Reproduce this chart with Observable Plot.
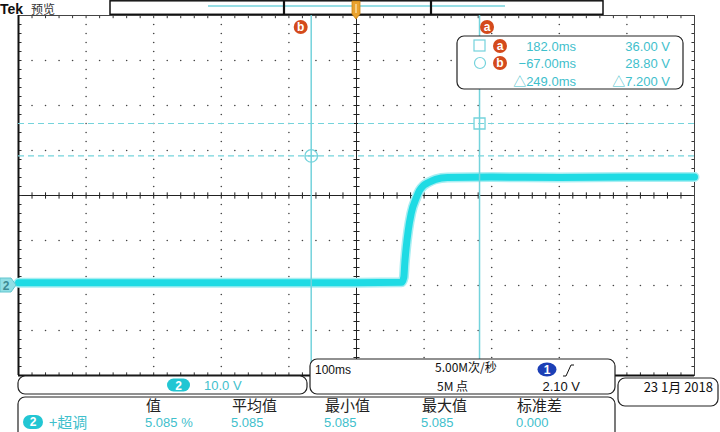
<!DOCTYPE html>
<html><head><meta charset="utf-8">
<script src="https://cdn.jsdelivr.net/npm/d3@7"></script>
<script src="https://cdn.jsdelivr.net/npm/@observablehq/plot@0.6"></script>
<style>body{margin:0;background:#fff;} svg{display:block;}</style>
</head><body><div id="chart"></div>
<script>
const traceTime = [-500, -400, -300, -200, -100, 0, 66.6, 70, 71.4, 73.5, 76.5, 80.9, 88.8, 93.2, 99.1, 106.5, 117, 134.6, 200, 300, 400, 500];
const traceVolt = [0.6, 0.6, 0.6, 0.6, 0.6, 0.6, 0.7, 1.8, 4.9, 8.4, 12.2, 16.0, 19.6, 21.1, 22.2, 22.9, 23.6, 24.0, 24.1, 24.0, 24.1, 24.1];
const cursorNames = ["a", "b"];
const cursorTimes = [182.0, -67.0];     // ms
const cursorVolts = [36.0, 28.8];       // V
const cursorTimeLabels = ["182.0ms", "−67.00ms", "△249.0ms"];
const cursorVoltLabels = ["36.00 V", "28.80 V", "△7.200 V"];
const measHeaders = ["值", "平均值", "最小值", "最大值", "标准差"];
const measValues = ["5.085 %", "5.085", "5.085", "5.085", "0.000"];
const measName = "+超调";
const channelScale = "10.0 V";
const timebase = "100ms";
const sampleRate = "5.00M次/秒";
const recordLen = "5M 点";
const trigLevel = "2.10 V";
const dateText = "23 1月 2018";

const trace = traceTime.map((t, i) => ({t, v: traceVolt[i]}));
const cursors = cursorNames.map((n, i) => ({n, t: cursorTimes[i], v: cursorVolts[i]}));

// graticule helpers (100 ms/div, 10 V/div, 5 minor per div)
const gridDots = [];
for (let x = -400; x <= 400; x += 100) if (x !== 0) for (let y = -18; y <= 58; y += 2) gridDots.push({x, y});
for (const y of [-10, 0, 10, 30, 40, 50]) for (let x = -480; x <= 480; x += 20) if (x % 100 !== 0) gridDots.push({x, y});
const minorX = d3.range(-480, 500, 20);
const minorY = d3.range(-18, 60, 2);

const CY = "#1fdbe4", CUR = "#74d3dc", TXT = "#3fc0cc";
const LAT = "'Liberation Sans','Noto Sans CJK SC',sans-serif";
const CJK = "'Noto Sans CJK SC','Liberation Sans',sans-serif";

const plot = Plot.plot({
  width: 720, height: 432,
  marginLeft: 18, marginRight: 26, marginTop: 15, marginBottom: 57,
  x: {domain: [-500, 500], axis: null},
  y: {domain: [-20, 60], axis: null},
  style: {background: "white", fontFamily: LAT},
  marks: [
    Plot.dot(gridDots, {x: "x", y: "y", r: 0.8, fill: "#444", stroke: null}),
    // center cross
    Plot.ruleX([0], {stroke: "#222", strokeWidth: 1}),
    Plot.ruleY([20], {stroke: "#222", strokeWidth: 1}),
    Plot.link(minorX, {x1: d => d, x2: d => d, y1: 19.3, y2: 20.7, stroke: "#222"}),
    Plot.link(minorY, {y1: d => d, y2: d => d, x1: -4.5, x2: 4.5, stroke: "#222"}),
    // border ticks
    Plot.link(minorX, {x1: d => d, x2: d => d, y1: -20, y2: -19.3, stroke: "#333"}),
    Plot.link(minorX, {x1: d => d, x2: d => d, y1: 60, y2: 59.4, stroke: "#333"}),
    Plot.link(minorY, {y1: d => d, y2: d => d, x1: -500, x2: -495.5, stroke: "#333"}),
    Plot.link(minorY, {y1: d => d, y2: d => d, x1: 500, x2: 495.5, stroke: "#333"}),
    Plot.frame({stroke: "#444", strokeWidth: 1}),
    Plot.ruleX([-500], {stroke: "#111", strokeWidth: 2}),
    Plot.ruleY([-20], {stroke: "#111", strokeWidth: 2}),
    // horizontal cursors (dashed)
    Plot.ruleY(cursors, {y: "v", stroke: CUR, strokeWidth: 1.2, strokeDasharray: "6,4"}),
    // trace
    Plot.line(trace, {x: "t", y: "v", stroke: "#a8eef2", strokeWidth: 10, curve: "monotone-x"}),
    Plot.line(trace, {x: "t", y: "v", stroke: CY, strokeWidth: 7, curve: "monotone-x"}),
    // vertical cursors
    Plot.ruleX(cursors, {x: "t", stroke: CUR, strokeWidth: 1.5}),
    Plot.dot(cursors.slice(0, 1), {x: "t", y: "v", symbol: "square", r: 6.2, stroke: CUR, strokeWidth: 1.3, fill: "none"}),
    Plot.dot(cursors.slice(1), {x: "t", y: "v", symbol: "circle", r: 6.3, stroke: CUR, strokeWidth: 1.3, fill: "none"}),
    Plot.link(cursors.slice(1), {x1: d => d.t - 9, x2: d => d.t + 9, y1: "v", y2: "v", stroke: CUR, strokeWidth: 1.3})
  ]
});
document.getElementById("chart").appendChild(plot);

const svg = d3.select(plot);
const sx = plot.scale("x").apply, sy = plot.scale("y").apply;
const g = svg.append("g");

function txt(x, y, s, o = {}) {
  return g.append("text").attr("x", x).attr("y", y).text(s)
    .attr("font-family", o.ff || LAT).attr("font-size", o.fs || 13)
    .attr("fill", o.fill || "#111").attr("text-anchor", o.anchor || "start")
    .attr("font-weight", o.fw || "normal");
}
function box(x, y, w, h, rx = 7) {
  g.append("rect").attr("x", x).attr("y", y).attr("width", w).attr("height", h)
    .attr("rx", rx).attr("fill", "white").attr("stroke", "#222").attr("stroke-width", 1.2);
}
function badge(cx, cy, label, fill) {
  g.append("circle").attr("cx", cx).attr("cy", cy).attr("r", 7).attr("fill", fill);
  txt(cx, cy + 4, label, {fs: 12, fw: "bold", fill: "white", anchor: "middle"});
}

// Title
txt(0, 14, "Tek", {fs: 14, fw: "bold"});
txt(31, 14, "预览", {ff: CJK, fs: 12, fill: "#333"});

// top record bar
g.append("rect").attr("x", 110).attr("y", 0.8).attr("width", 493).attr("height", 13.5).attr("fill", "white").attr("stroke", "#111").attr("stroke-width", 1.5);
g.append("line").attr("x1", 208).attr("x2", 505).attr("y1", 6).attr("y2", 6).attr("stroke", CUR).attr("stroke-width", 1.5);
for (const x of [284, 431]) g.append("line").attr("x1", x).attr("x2", x).attr("y1", 0.8).attr("y2", 14.3).attr("stroke", "#111").attr("stroke-width", 2.2);
// trigger position marker
const tx = sx(0);
g.append("path").attr("d", `M${tx - 4},1 h8 v13 l-4,5 l-4,-5 z`).attr("fill", "#e9a22e").attr("stroke", "#c98414").attr("stroke-width", 0.8);
g.append("line").attr("x1", tx).attr("x2", tx).attr("y1", 4).attr("y2", 13).attr("stroke", "#fde8b8").attr("stroke-width", 1.2);

// cursor letter badges
badge(sx(cursorTimes[1]) - 10, 27, "b", "#d44a1c");
badge(sx(cursorTimes[0]) + 8, 27, "a", "#d44a1c");

// cursor readout box
box(457, 36, 226, 53);
const rows = [46, 63, 81];
g.append("rect").attr("x", 474).attr("y", 40).attr("width", 11).attr("height", 11).attr("fill", "none").attr("stroke", CUR).attr("stroke-width", 1.2);
g.append("circle").attr("cx", 480).attr("cy", 63).attr("r", 5.5).attr("fill", "none").attr("stroke", CUR).attr("stroke-width", 1.2);
badge(500, 46, "a", "#d44a1c");
badge(500, 63, "b", "#d44a1c");
cursorTimeLabels.forEach((s, i) => txt(576, rows[i] + 5, s, {fill: TXT, anchor: "end"}));
cursorVoltLabels.forEach((s, i) => txt(670, rows[i] + 5, s, {fill: TXT, anchor: "end"}));

// channel ground marker
const gy = sy(0);
g.append("path").attr("d", `M0,${gy - 7} h11 l5,7 l-5,7 h-11 z`).attr("fill", "#92dfe5").attr("stroke", "#62c6cf");
txt(6, gy + 4.5, "2", {fs: 12, fw: "bold", fill: "#3d8a93", anchor: "middle"});

// channel scale box
box(18, 376, 289, 18);
g.append("rect").attr("x", 167).attr("y", 378.5).attr("width", 23).attr("height", 13).attr("rx", 6.5).attr("fill", "#22c6d3");
txt(178.5, 389.5, "2", {fs: 12, fw: "bold", fill: "white", anchor: "middle"});
txt(204, 390, channelScale, {fill: TXT});

// measurement box
box(18, 397, 597, 45);
g.append("rect").attr("x", 23).attr("y", 415).attr("width", 20).attr("height", 14).attr("rx", 7).attr("fill", "#22c6d3");
txt(33, 426, "2", {fs: 12, fw: "bold", fill: "white", anchor: "middle"});
txt(49, 428, measName, {ff: CJK, fs: 15, fill: TXT});
const colX = [146, 232, 325, 422, 517];
measHeaders.forEach((s, i) => txt(colX[i], 411, s, {ff: CJK, fs: 15, fill: "#222"}));
measValues.forEach((s, i) => txt(colX[i] - 1, 427, s, {fs: 13, fill: TXT}));

// timebase box
box(310, 359, 305, 35);
txt(315, 374, timebase, {fs: 12});
txt(435, 372, sampleRate, {ff: CJK, fs: 12});
txt(437, 390.5, recordLen, {ff: CJK, fs: 12});
g.append("ellipse").attr("cx", 547).attr("cy", 369.5).attr("rx", 9.5).attr("ry", 7).attr("fill", "#1c3fb6");
txt(547, 374, "1", {fs: 12, fw: "bold", fill: "white", anchor: "middle"});
g.append("path").attr("d", "M563,376 h3 l5,-11 h3").attr("fill", "none").attr("stroke", "#111").attr("stroke-width", 1);
txt(580, 391, trigLevel, {fs: 13, anchor: "end"});

// date box
box(618, 378, 100, 28);
txt(713, 392, dateText, {ff: CJK, fs: 13, anchor: "end"});
</script></body></html>
